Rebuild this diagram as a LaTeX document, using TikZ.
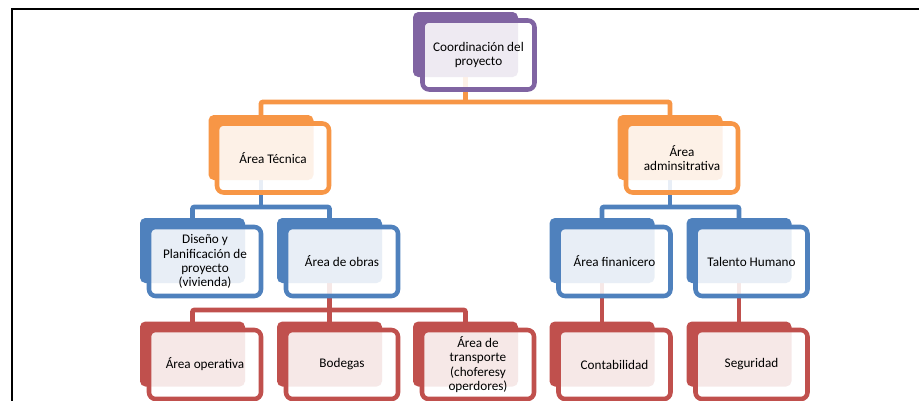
\documentclass[tikz,border=0pt]{standalone}
\usepackage{fontspec}
\setmainfont{Carlito}
\usepackage{tikz}
\usetikzlibrary{positioning,backgrounds}
\definecolor{purp}{RGB}{128,100,162}
\definecolor{orng}{RGB}{247,150,70}
\definecolor{blu}{RGB}{79,129,189}
\definecolor{redd}{RGB}{192,80,77}
\tikzset{
    backbox/.style={fill=#1, rounded corners=4pt, minimum width=78.75pt, minimum height=48.75pt, inner sep=0pt},
    frontbox/.style={draw=#1, line width=3.4pt, fill=white, fill opacity=0.87, text opacity=1, rounded corners=5pt,
        minimum width=84pt, minimum height=51.75pt, inner sep=2pt, align=center,
        font=\fontsize{9.9pt}{10.6pt}\selectfont},
    link/.style={draw=#1, line width=3.6pt, rounded corners=1.5pt}
}

\begin{document}
\begin{tikzpicture}[x=0.75pt, y=-0.75pt]
            \useasboundingbox (0,0) rectangle (919,400);
            \clip (0,0) rectangle (919,400);
            % frame
            \draw[line width=1.5pt] (12,402) -- (12,9) -- (921,9);

            % back plates
            \node[backbox=purp] (coord-b) at (465.5,44.5) {};
            \node[backbox=orng] (tec-b) at (261,147.5) {};
            \node[backbox=orng] (adm-b) at (670,147.5) {};
            \node[backbox=blu] (dis-b) at (192.5,250.5) {};
            \node[backbox=blu] (obras-b) at (329.5,250.5) {};
            \node[backbox=blu] (fin-b) at (602,250.5) {};
            \node[backbox=blu] (tal-b) at (739,250.5) {};
            \node[backbox=redd] (oper-b) at (192.5,354) {};
            \node[backbox=redd] (bod-b) at (329.5,354) {};
            \node[backbox=redd] (trans-b) at (465.5,354) {};
            \node[backbox=redd] (cont-b) at (602,354) {};
            \node[backbox=redd] (seg-b) at (739,354) {};

            % connectors, behind the plates
            \coordinate (bus1) at (465.5,102);
            \coordinate (bus2) at (261,207);
            \coordinate (bus3) at (670,207);
            \coordinate (bus4) at (329.5,310);
            \begin{scope}[on background layer]
                \draw[link=orng] (coord-b.center) -- (bus1);
                \draw[link=orng] (tec-b.center) |- (bus1) -| (adm-b.center);
                \draw[link=blu] (tec-b.center) -- (bus2);
                \draw[link=blu] (dis-b.center) |- (bus2) -| (obras-b.center);
                \draw[link=blu] (adm-b.center) -- (bus3);
                \draw[link=blu] (fin-b.center) |- (bus3) -| (tal-b.center);
                \draw[link=redd] (obras-b.center) -- (bod-b.center);
                \draw[link=redd] (oper-b.center) |- (bus4) -| (trans-b.center);
                \draw[link=redd] (fin-b.center) -- (cont-b.center);
                \draw[link=redd] (tal-b.center) -- (seg-b.center);
            \end{scope}

            % front boxes
            \node[frontbox=purp] (coord) at ([shift={(13,10.5)}]coord-b) {Coordinación del\\proyecto};
            \node[frontbox=orng] (tec) at ([shift={(12,10.5)}]tec-b) {Área Técnica};
            \node[frontbox=orng] (adm) at ([shift={(12,10.5)}]adm-b) {Área\\adminsitrativa};
            \node[frontbox=blu] (dis) at ([shift={(12.5,11)}]dis-b) {Diseño y\\Planificación de\\proyecto\\(vivienda)};
            \node[frontbox=blu] (obras) at ([shift={(12.5,11)}]obras-b) {Área de obras};
            \node[frontbox=blu] (fin) at ([shift={(12.5,11)}]fin-b) {Área finanicero};
            \node[frontbox=blu] (tal) at ([shift={(12.5,11)}]tal-b) {Talento Humano};
            \node[frontbox=redd] (oper) at ([shift={(12.5,10.5)}]oper-b) {Área operativa};
            \node[frontbox=redd] (bod) at ([shift={(12.5,10.5)}]bod-b) {Bodegas};
            \node[frontbox=redd] (trans) at ([shift={(12.5,10.5)}]trans-b) {Área de\\transporte\\(choferesy\\operdores)};
            \node[frontbox=redd] (cont) at ([shift={(12.5,10.5)}]cont-b) {Contabilidad};
            \node[frontbox=redd] (seg) at ([shift={(12.5,10.5)}]seg-b) {Seguridad};
        \end{tikzpicture}
\end{document}
